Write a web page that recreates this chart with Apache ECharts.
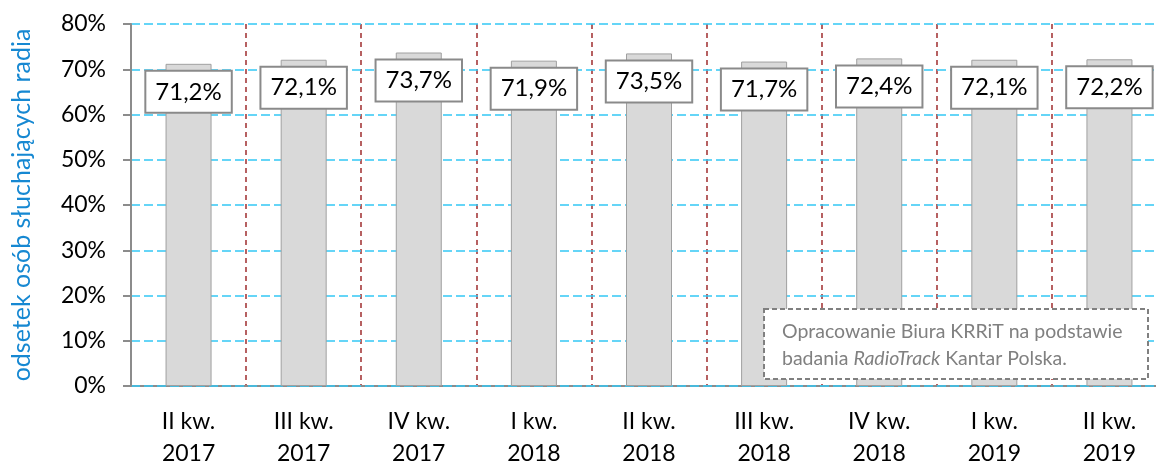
<!DOCTYPE html>
<html><head><meta charset="utf-8">
<script src="https://cdn.jsdelivr.net/npm/echarts@6/dist/echarts.min.js"></script>
<style>html,body{margin:0;padding:0;background:#fff;overflow:hidden}#c{width:1156px;height:461px}</style>
</head><body><div id="c"></div>
<script>
var categories = ['II kw.\n2017','III kw.\n2017','IV kw.\n2017','I kw.\n2018','II kw.\n2018','III kw.\n2018','IV kw.\n2018','I kw.\n2019','II kw.\n2019'];
var values = [71.2, 72.1, 73.7, 71.9, 73.5, 71.7, 72.4, 72.1, 72.2];
var yTicks = [0,10,20,30,40,50,60,70,80];
var axisName = 'odsetek osób słuchających radia';
var noteLine1 = 'Opracowanie Biura KRRiT na podstawie';
var noteLine2a = 'badania ', noteLine2b = 'RadioTrack', noteLine2c = ' Kantar Polska.';
var FONT = 'Lato, "Open Sans", sans-serif';
var chart = echarts.init(document.getElementById('c'));
chart.setOption({
  animation:false,
  textStyle:{fontFamily:FONT},
  grid:{left:131,top:24,height:362,width:1036,containLabel:false,outerBoundsMode:'none'},
  xAxis:{type:'category',data:categories,z:1,
    axisLine:{lineStyle:{color:'#8c8c8c',width:2}},
    axisTick:{length:9,lineStyle:{color:'#8c8c8c',width:2}},
    axisLabel:{color:'#000',fontSize:23,lineHeight:32,margin:20,fontFamily:FONT,interval:0},
    splitLine:{show:true,lineStyle:{color:'#a53a3b',type:[5,4],width:1.6}}
  },
  yAxis:{type:'value',min:yTicks[0],max:yTicks[yTicks.length-1],interval:10,z:2,
    name:axisName,nameLocation:'middle',nameGap:97,nameRotate:90,
    nameTextStyle:{color:'#1688d2',fontSize:25,fontFamily:FONT},
    axisLine:{show:true,lineStyle:{color:'#8c8c8c',width:2}},
    axisTick:{show:true,length:8,lineStyle:{color:'#8c8c8c',width:2}},
    axisLabel:{color:'#000',fontSize:23,margin:25,fontFamily:FONT,formatter:function(v){return v+'%';}},
    splitLine:{show:true,lineStyle:{color:'#33c8f5',type:[9,4],width:1.6}}
  },
  series:[{type:'bar',data:values,barWidth:46,
    itemStyle:{color:'#d9d9d9',borderColor:'#a0a0a0',borderWidth:1},
    label:{show:true,position:'insideTop',distance:8,
      formatter:function(p){return p.value.toFixed(1).replace('.',',')+'%';},
      color:'#000',fontSize:24,fontFamily:FONT,
      backgroundColor:'#fff',borderColor:'#8a8a8a',borderWidth:2,padding:[8,9,8,9]}
  }],
  graphic:[{type:'rect',left:763,top:308,shape:{width:384,height:70},
      style:{fill:'#fff',stroke:'#808080',lineWidth:2,lineDash:[5,3]},z:100},
    {type:'text',left:782,top:318,z:101,
      style:{text:noteLine1+'\n{n|'+noteLine2a+'}{i|'+noteLine2b+'}{n|'+noteLine2c+'}',
        fill:'#808080',font:'19.5px '+FONT,lineHeight:27,
        rich:{n:{fill:'#808080',fontSize:19.5,fontFamily:FONT,lineHeight:27},
              i:{fill:'#808080',fontSize:19.5,fontFamily:FONT,fontStyle:'italic',lineHeight:27}}}}
  ]
});
</script></body></html>
